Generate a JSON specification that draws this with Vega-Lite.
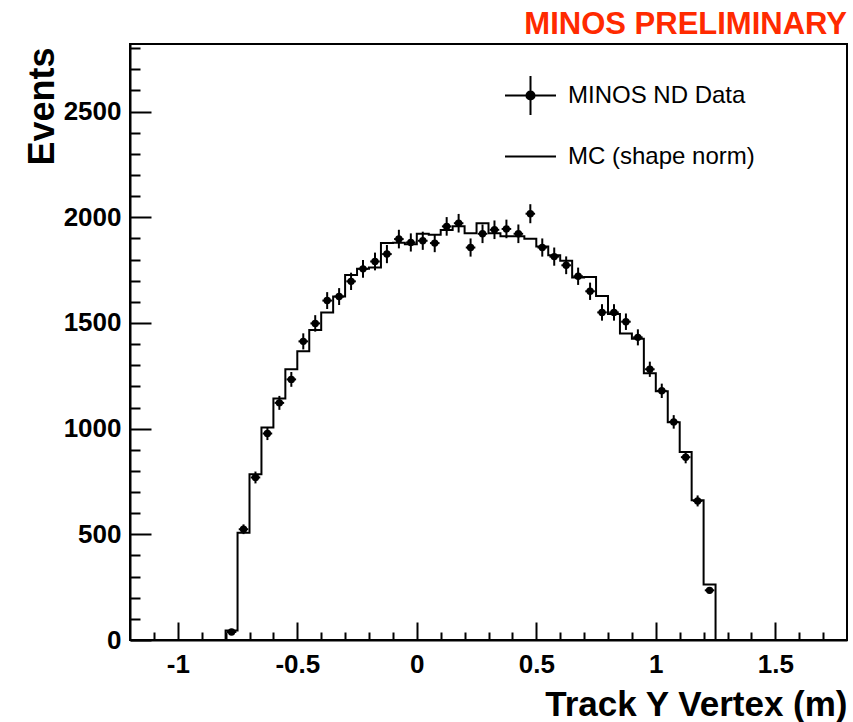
{
  "$schema": "https://vega.github.io/schema/vega-lite/v6.json",
  "width": 717,
  "height": 596,
  "autosize": {"type": "none"},
  "padding": {"left": 130, "top": 44, "right": 6, "bottom": 82},
  "background": "white",
  "title": {"text": "MINOS PRELIMINARY", "anchor": "end", "frame": "group", "color": "#ff2a00", "font": "Liberation Sans", "fontSize": 31, "fontWeight": "bold", "offset": 3, "baseline": "bottom", "dy": 40},
  "config": {"view": {"stroke": "black", "strokeWidth": 2}},
  "datasets": {
    "mc": [
      {"edge": -1.2, "mc": 0}, {"edge": -0.8, "mc": 45}, {"edge": -0.75, "mc": 508}, {"edge": -0.7, "mc": 784},
      {"edge": -0.65, "mc": 1006}, {"edge": -0.6, "mc": 1143}, {"edge": -0.55, "mc": 1281}, {"edge": -0.5, "mc": 1366},
      {"edge": -0.45, "mc": 1467}, {"edge": -0.4, "mc": 1549}, {"edge": -0.35, "mc": 1625}, {"edge": -0.3, "mc": 1727},
      {"edge": -0.25, "mc": 1757}, {"edge": -0.2, "mc": 1762}, {"edge": -0.15, "mc": 1878}, {"edge": -0.1, "mc": 1880},
      {"edge": -0.05, "mc": 1872}, {"edge": 0.0, "mc": 1922}, {"edge": 0.05, "mc": 1918}, {"edge": 0.1, "mc": 1940},
      {"edge": 0.15, "mc": 1958}, {"edge": 0.2, "mc": 1925}, {"edge": 0.25, "mc": 1972}, {"edge": 0.3, "mc": 1925},
      {"edge": 0.35, "mc": 1910}, {"edge": 0.4, "mc": 1910}, {"edge": 0.45, "mc": 1898}, {"edge": 0.5, "mc": 1862},
      {"edge": 0.55, "mc": 1820}, {"edge": 0.6, "mc": 1795}, {"edge": 0.65, "mc": 1715}, {"edge": 0.7, "mc": 1718},
      {"edge": 0.75, "mc": 1628}, {"edge": 0.8, "mc": 1542}, {"edge": 0.85, "mc": 1450}, {"edge": 0.9, "mc": 1425},
      {"edge": 0.95, "mc": 1262}, {"edge": 1.0, "mc": 1177}, {"edge": 1.05, "mc": 1030}, {"edge": 1.1, "mc": 890},
      {"edge": 1.15, "mc": 661}, {"edge": 1.2, "mc": 263}, {"edge": 1.25, "mc": 0}, {"edge": 1.8, "mc": 0}
    ],
    "data": [
      {"x": -0.775, "y": 38, "err": 6, "xerr": 0.02}, {"x": -0.725, "y": 524, "err": 23, "xerr": 0.02},
      {"x": -0.675, "y": 769, "err": 28, "xerr": 0.02}, {"x": -0.625, "y": 977, "err": 31, "xerr": 0.02},
      {"x": -0.575, "y": 1122, "err": 33, "xerr": 0.02}, {"x": -0.525, "y": 1233, "err": 35, "xerr": 0.02},
      {"x": -0.475, "y": 1413, "err": 38, "xerr": 0.02}, {"x": -0.425, "y": 1498, "err": 39, "xerr": 0.02},
      {"x": -0.375, "y": 1606, "err": 40, "xerr": 0.02}, {"x": -0.325, "y": 1625, "err": 40, "xerr": 0.02},
      {"x": -0.275, "y": 1697, "err": 41, "xerr": 0.02}, {"x": -0.225, "y": 1756, "err": 42, "xerr": 0.02},
      {"x": -0.175, "y": 1791, "err": 42, "xerr": 0.02}, {"x": -0.125, "y": 1826, "err": 43, "xerr": 0.02},
      {"x": -0.075, "y": 1897, "err": 44, "xerr": 0.02}, {"x": -0.025, "y": 1881, "err": 43, "xerr": 0.02},
      {"x": 0.025, "y": 1889, "err": 43, "xerr": 0.02}, {"x": 0.075, "y": 1878, "err": 43, "xerr": 0.02},
      {"x": 0.125, "y": 1957, "err": 44, "xerr": 0.02}, {"x": 0.175, "y": 1972, "err": 44, "xerr": 0.02},
      {"x": 0.225, "y": 1857, "err": 43, "xerr": 0.02}, {"x": 0.275, "y": 1922, "err": 44, "xerr": 0.02},
      {"x": 0.325, "y": 1941, "err": 44, "xerr": 0.02}, {"x": 0.375, "y": 1945, "err": 44, "xerr": 0.02},
      {"x": 0.425, "y": 1922, "err": 44, "xerr": 0.02}, {"x": 0.475, "y": 2017, "err": 45, "xerr": 0.02},
      {"x": 0.525, "y": 1857, "err": 43, "xerr": 0.02}, {"x": 0.575, "y": 1814, "err": 43, "xerr": 0.02},
      {"x": 0.625, "y": 1773, "err": 42, "xerr": 0.02}, {"x": 0.675, "y": 1721, "err": 41, "xerr": 0.02},
      {"x": 0.725, "y": 1650, "err": 41, "xerr": 0.02}, {"x": 0.775, "y": 1550, "err": 39, "xerr": 0.02},
      {"x": 0.825, "y": 1550, "err": 39, "xerr": 0.02}, {"x": 0.875, "y": 1506, "err": 39, "xerr": 0.02},
      {"x": 0.925, "y": 1432, "err": 38, "xerr": 0.02}, {"x": 0.975, "y": 1281, "err": 36, "xerr": 0.02},
      {"x": 1.025, "y": 1179, "err": 34, "xerr": 0.02}, {"x": 1.075, "y": 1032, "err": 32, "xerr": 0.02},
      {"x": 1.125, "y": 865, "err": 29, "xerr": 0.02}, {"x": 1.175, "y": 658, "err": 26, "xerr": 0.02},
      {"x": 1.225, "y": 235, "err": 15, "xerr": 0.02}
    ]
  },
  "encoding": {
    "x": {
      "type": "quantitative",
      "scale": {"domain": [-1.2, 1.8], "nice": false, "zero": false},
      "axis": {
        "values": [-1.1, -1.0, -0.9, -0.8, -0.7, -0.6, -0.5, -0.4, -0.3, -0.2, -0.1, 0, 0.1, 0.2, 0.3, 0.4, 0.5, 0.6, 0.7, 0.8, 0.9, 1.0, 1.1, 1.2, 1.3, 1.4, 1.5, 1.6, 1.7],
        "tickSize": {"condition": {"test": "abs(round(datum.value*10)%5)===0", "value": -18}, "value": -8},
        "tickWidth": 2, "tickColor": "black",
        "labelExpr": "abs(round(datum.value*10)%5)===0 ? '' + datum.value : ''",
        "labelFont": "Liberation Sans", "labelFontSize": 26, "labelFontWeight": "bold", "labelColor": "black",
        "labelPadding": 29, "labelOverlap": false, "labelFlush": false, "grid": false,
        "domainColor": "black", "domainWidth": 2,
        "title": "Track Y Vertex (m)", "titleFont": "Liberation Sans", "titleFontSize": 35, "titleFontWeight": "bold", "titleColor": "black",
        "titleAnchor": "end", "titleAlign": "right", "titleX": 717, "titleY": 75, "titleBaseline": "alphabetic"
      }
    },
    "y": {
      "type": "quantitative",
      "scale": {"domain": [0, 2820], "nice": false},
      "axis": {
        "values": [0, 100, 200, 300, 400, 500, 600, 700, 800, 900, 1000, 1100, 1200, 1300, 1400, 1500, 1600, 1700, 1800, 1900, 2000, 2100, 2200, 2300, 2400, 2500, 2600, 2700, 2800],
        "tickSize": {"condition": {"test": "round(datum.value)%500===0", "value": -21}, "value": -10},
        "tickWidth": 2, "tickColor": "black",
        "labelExpr": "round(datum.value)%500===0 ? '' + datum.value : ''",
        "labelFont": "Liberation Sans", "labelFontSize": 26, "labelFontWeight": "bold", "labelColor": "black",
        "labelPadding": 30, "labelOverlap": false, "labelFlush": false, "grid": false,
        "domainColor": "black", "domainWidth": 2,
        "title": "Events", "titleFont": "Liberation Sans", "titleFontSize": 36, "titleFontWeight": "bold", "titleColor": "black",
        "titleAngle": -90, "titleAnchor": "end", "titleAlign": "right", "titleX": -77, "titleY": 3, "titleBaseline": "alphabetic"
      }
    }
  },
  "layer": [
    {
      "data": {"name": "mc"},
      "mark": {"type": "line", "interpolate": "step-after", "strokeWidth": 2},
      "encoding": {
        "x": {"field": "edge", "type": "quantitative"},
        "y": {"field": "mc", "type": "quantitative"},
        "color": {
          "datum": "MC (shape norm)",
          "scale": {"domain": ["MINOS ND Data", "MC (shape norm)"], "range": ["black", "black"]},
          "legend": {
            "orient": "none", "legendX": 374, "legendY": 25, "title": null, "padding": 0,
            "symbolSize": 2600, "symbolStrokeWidth": 2, "symbolStrokeColor": "black", "symbolFillColor": "black",
            "labelFont": "Liberation Sans", "labelFontSize": 24, "labelColor": "black", "labelOffset": 11, "rowPadding": 11,
            "labelLimit": 400,
            "encode": {"symbols": {"update": {
              "shape": {"signal": "datum.value === 'MC (shape norm)' ? 'M-1,0H1' : 'M-1,0H1M0,-0.76V0.76M0.16,0A0.16,0.16,0,1,1,-0.16,0A0.16,0.16,0,1,1,0.16,0Z'"},
              "fill": {"value": "black"}, "stroke": {"value": "black"}, "strokeWidth": {"value": 2}, "opacity": {"value": 1}
            }}}
          }
        }
      }
    },
    {
      "data": {"name": "data"},
      "mark": {"type": "errorbar", "color": "black", "thickness": 2},
      "encoding": {
        "x": {"field": "x", "type": "quantitative"},
        "y": {"field": "y", "type": "quantitative"},
        "yError": {"field": "err"}
      }
    },
    {
      "data": {"name": "data"},
      "mark": {"type": "errorbar", "color": "black", "thickness": 2},
      "encoding": {
        "y": {"field": "y", "type": "quantitative"},
        "x": {"field": "x", "type": "quantitative"},
        "xError": {"field": "xerr"}
      }
    },
    {
      "data": {"name": "data"},
      "mark": {"type": "point", "filled": true, "size": 55, "opacity": 1},
      "encoding": {
        "x": {"field": "x", "type": "quantitative"},
        "y": {"field": "y", "type": "quantitative"},
        "color": {"datum": "MINOS ND Data"}
      }
    }
  ]
}
